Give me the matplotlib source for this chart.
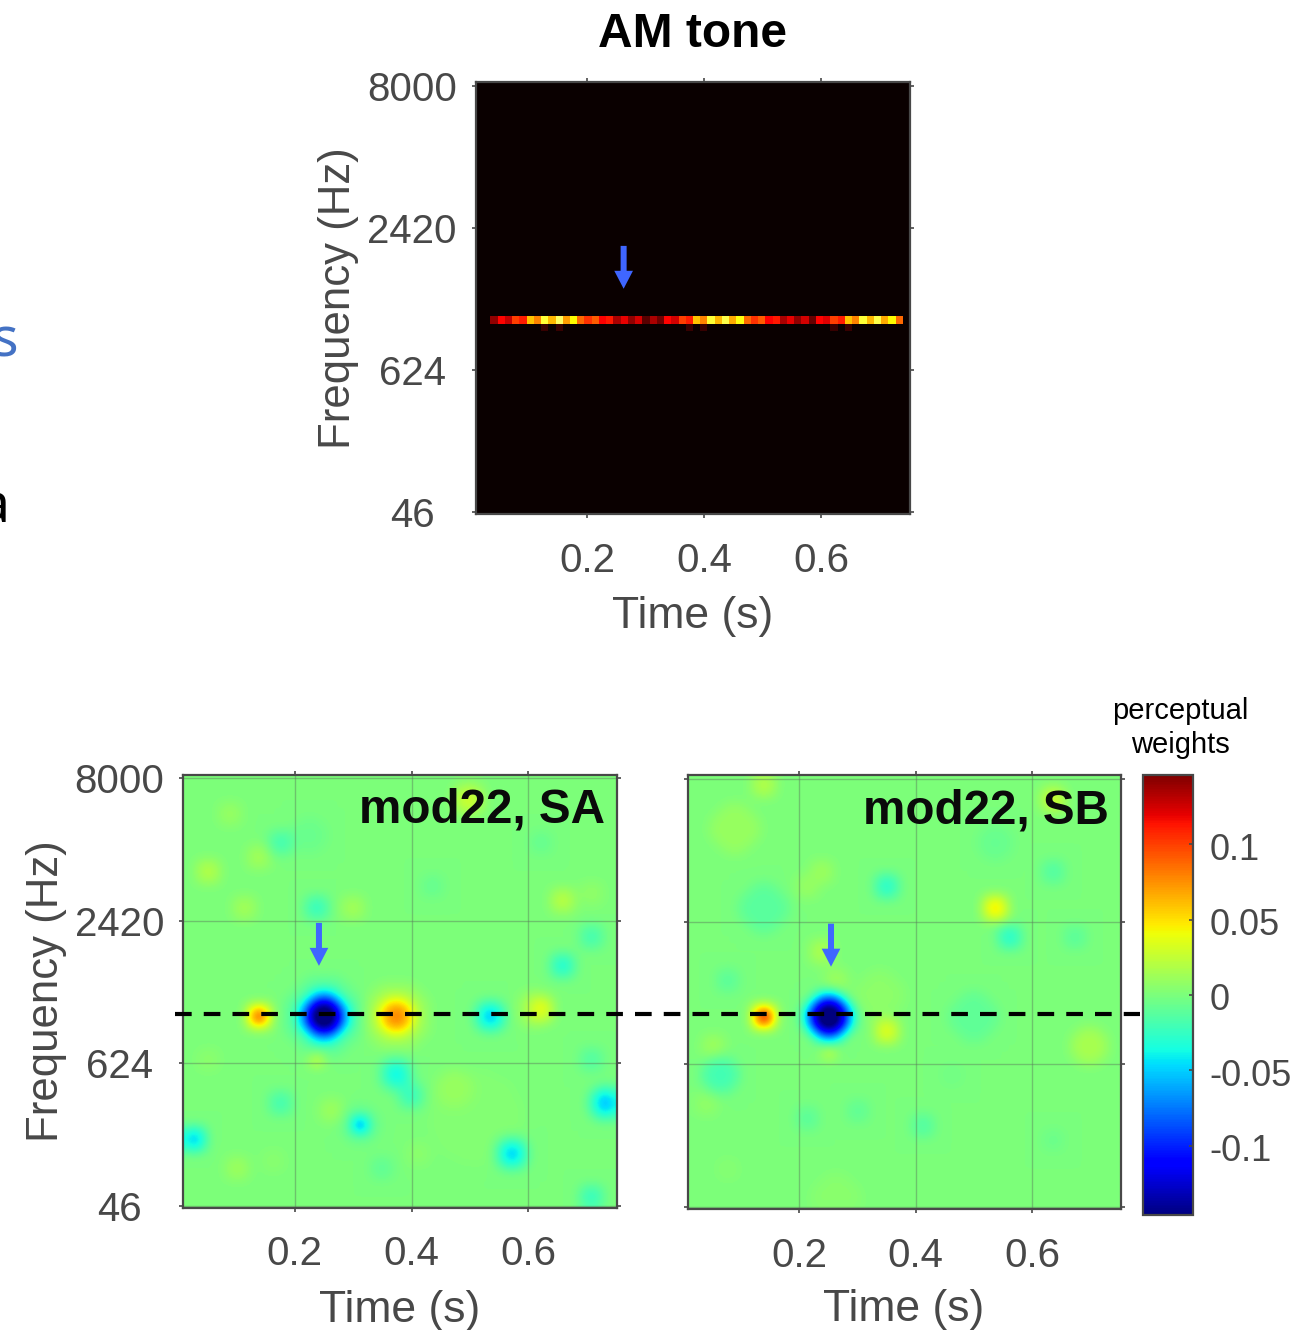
import matplotlib
matplotlib.use("Agg")
import matplotlib.pyplot as plt
import numpy as np
from matplotlib.patches import FancyArrow
from matplotlib.transforms import ScaledTranslation

plt.rcParams['font.family'] = ['Liberation Sans', 'DejaVu Sans']

W, H = 1304, 1330
cinza = '#484848'

# eixos comuns
time_ticks = [0.2, 0.4, 0.6]
freq_labels = ['46', '624', '2420', '8000']
freq_pos = [0, 1, 2, 3]
t_lim = (0.0092, 0.7524)
y_lim = (-0.014, 3.028)

# tom AM: uma linha de celulas do espectrograma (colunas 2 a 58)
tone_row = 32
tone_first_col = 2
tone_values = [0.20, 0.37, 0.28, 0.46, 0.41, 0.66, 0.56, 0.80, 0.64, 0.84, 0.60, 0.74,
               0.52, 0.44, 0.50, 0.36, 0.40, 0.24, 0.33, 0.20, 0.30, 0.12, 0.24, 0.15,
               0.37, 0.30, 0.46, 0.41, 0.66, 0.56, 0.80, 0.64, 0.82, 0.62, 0.76, 0.52,
               0.44, 0.50, 0.36, 0.40, 0.24, 0.33, 0.20, 0.30, 0.14, 0.37, 0.32, 0.46,
               0.41, 0.66, 0.56, 0.80, 0.64, 0.82, 0.62, 0.74, 0.52]
tone_weak_cols = [9, 11, 29, 31, 49, 51]
tone_weak_value = 0.07

# manchas do mapa SA (em ordem de desenho, as largas primeiro)
sa_col = [40, 48, 29, 42, 19, 19, 19, 19, 29, 29, 10, 10, 42, 49, 39, 39, 6, 13, 17, 10, 3, 8, 18, 23,
          34, 52, 56, 49, 56, 52, 18, 3, 29, 29, 31, 13, 20, 24, 24, 58, 58, 37, 1, 45, 45, 7, 12, 27,
          32, 56, 56]
sa_row = [47, 32, 33, 33, 33, 33, 33, 33, 33, 33, 33, 33, 33, 32, 3, 3, 5, 9, 8, 11, 13, 18, 18, 18,
          15, 17, 16, 9, 22, 26, 39, 39, 41, 41, 44, 45, 46, 48, 48, 45, 45, 43, 50, 52, 52, 54, 53, 54,
          52, 58, 39]
sa_half = [6, 2, 4, 2, 5, 3, 2, 1, 2, 1, 1, 0, 1, 1, 2, 1, 1, 1, 2, 1, 1, 1, 1, 1,
           1, 1, 1, 1, 1, 1, 0, 1, 2, 1, 1, 1, 1, 2, 0, 2, 1, 2, 1, 2, 1, 1, 1, 1,
           1, 1, 1]
sa_weight = [0.003, 0.01, 0.012, -0.01, -0.012, -0.06, -0.115, -0.17, 0.05, 0.08, 0.055, 0.2,
             -0.052, 0.038, 0.008, 0.03, 0.01, -0.02, -0.006, 0.014, 0.02, 0.014, -0.025, 0.014,
             -0.008, 0.022, 0.008, -0.008, -0.02, -0.032, 0.09, 0.006, -0.012, -0.04, -0.025, -0.02,
             0.012, -0.012, -0.2, -0.018, -0.055, 0.01, -0.05, -0.012, -0.05, 0.012, 0.005, -0.01,
             0.006, -0.025, -0.015]

# manchas do mapa SB
sb_col = [20, 26, 39, 6, 10, 19, 19, 19, 10, 10, 27, 19, 20, 18, 42, 44, 53, 27, 50, 10, 50, 18, 16,
          42, 5, 55, 3, 4, 2, 16, 23, 32, 50, 36, 5]
sb_row = [58, 30, 33, 7, 18, 33, 33, 33, 33, 33, 35, 38, 28, 24, 18, 22, 22, 15, 13, 1, 3, 13, 15,
          9, 28, 37, 37, 41, 45, 47, 46, 48, 50, 41, 54]
sb_half = [3, 3, 3, 3, 3, 3, 2, 1, 1, 0, 1, 0, 1, 1, 1, 1, 1, 1, 1, 1, 1, 1, 1,
           2, 1, 2, 1, 2, 1, 1, 1, 1, 1, 1, 1]
sb_weight = [0.005, 0.006, -0.01, 0.01, -0.012, -0.055, -0.12, -0.17, 0.065, 0.25, 0.036, 0.07,
             0.012, 0.018, 0.05, -0.03, -0.012, -0.03, -0.015, 0.02, 0.03, 0.012, 0.01,
             -0.007, -0.012, 0.016, 0.012, -0.02, 0.008, -0.012, -0.01, -0.015, -0.006, -0.004, 0.004]

# escala de cores
weight_lim = 0.146
cbar_ticks = [-0.1, -0.05, 0, 0.05, 0.1]
cbar_labels = ['-0.1', '-0.05', '0', '0.05', '0.1']


def monta_mapa(cols, rows, halves, weights):
    grid = np.zeros((60, 60))
    yy, xx = np.mgrid[0:60, 0:60]
    for c, r, h, w in zip(cols, rows, halves, weights):
        grid[(xx - c) ** 2 + (yy - r) ** 2 <= h * h + h] = w
    # suaviza as bordas das manchas
    nucleo = np.array([1, 2, 1]) / 4
    grid = np.apply_along_axis(np.convolve, 0, grid, nucleo, mode='same')
    grid = np.apply_along_axis(np.convolve, 1, grid, nucleo, mode='same')
    return grid


def novo_eixo(esq, topo, dir, baixo):
    return fig.add_axes([esq / W, 1 - baixo / H, (dir - esq) / W, (baixo - topo) / H])


def formata_eixo(ax, ylabel_x):
    ax.set_aspect('auto')
    ax.set_xlim(t_lim)
    ax.set_ylim(y_lim)
    ax.set_xticks(time_ticks)
    ax.set_xticklabels([str(t) for t in time_ticks])
    ax.set_yticks(freq_pos)
    ax.set_yticklabels(freq_labels, ha='center')
    ax.tick_params(axis='x', direction='out', length=3, width=1.2, color=cinza, labelcolor=cinza,
                   labelsize=29, pad=17, top=True)
    ax.tick_params(axis='y', direction='out', length=3, width=1.2, color=cinza, labelcolor=cinza,
                   labelsize=29, pad=43, right=True)
    for s in ax.spines.values():
        s.set_color(cinza)
        s.set_linewidth(1.6)
    ax.set_xlabel('Time (s)', fontsize=32, color=cinza, va='center')
    ax.xaxis.set_label_coords(0.498, -0.238)
    ax.set_ylabel('Frequency (Hz)', fontsize=31.5, color=cinza, va='center')
    ax.yaxis.set_label_coords(ylabel_x, 0.5)


def seta(ax, t, topo):
    ax.add_patch(FancyArrow(t, topo, 0, -43 / 142.5, width=0.0103, head_width=0.032,
                            head_length=18 / 142.5, length_includes_head=True,
                            color='#3f66ff', lw=0, zorder=4))


fig = plt.figure(figsize=(W / 100, H / 100), dpi=100)

# painel de cima
ax_am = novo_eixo(476, 82, 910, 514)
tone = np.zeros((59, 60))
tone[tone_row, tone_first_col:tone_first_col + len(tone_values)] = tone_values
tone[tone_row + 1, tone_weak_cols] = tone_weak_value
ax_am.imshow(tone, cmap='hot', vmin=0, vmax=1, extent=(*t_lim, *y_lim), interpolation='nearest')
formata_eixo(ax_am, -0.316)
seta(ax_am, 0.262, 1.874)
ax_am.set_title('AM tone', fontsize=34.5, fontweight='bold', color='black', pad=25)

# paineis de baixo
ax_sa = novo_eixo(183.3, 774.5, 617.3, 1207.7)
ax_sb = novo_eixo(687.7, 775, 1121, 1209)
ax_sa.set_zorder(5)
mapas = [monta_mapa(sa_col, sa_row, sa_half, sa_weight), monta_mapa(sb_col, sb_row, sb_half, sb_weight)]
for ax, mapa, nome, t_seta in zip([ax_sa, ax_sb], mapas, ['mod22, SA', 'mod22, SB'], [0.2415, 0.255]):
    im = ax.imshow(mapa, cmap='jet', vmin=-weight_lim, vmax=weight_lim, extent=(*t_lim, *y_lim),
                   interpolation='bicubic')
    formata_eixo(ax, -0.316)
    ax.grid(True, color='#5a7a5a', alpha=0.45, lw=1)
    seta(ax, t_seta, 1.986)
    ax.text(0.972, 0.917, nome, transform=ax.transAxes, ha='right', va='center', fontsize=34.3,
            fontweight='bold', color='#0a0a0a', zorder=5)
ax_sb.set_ylabel('')
ax_sb.set_yticklabels([])
ax_sb.xaxis.set_label_coords(0.498, -0.232)

# linha tracejada na frequencia do tom
ax_sa.plot([-0.018, 2.205], [1.344, 1.344], transform=ax_sa.get_yaxis_transform(), color='black', lw=3,
           dashes=(4, 2.9), clip_on=False, zorder=6)

# barra de cores
cax = novo_eixo(1143, 775, 1193, 1215)
cb = fig.colorbar(im, cax=cax, ticks=cbar_ticks)
cb.ax.set_yticklabels(cbar_labels)
cb.ax.tick_params(direction='in', length=3, width=1.2, color=cinza, labelcolor=cinza, labelsize=26, pad=12)
desce = ScaledTranslation(0, -2 / 100, fig.dpi_scale_trans)
for lab in cb.ax.get_yticklabels():
    lab.set_transform(lab.get_transform() + desce)
cb.outline.set_edgecolor(cinza)
cb.outline.set_linewidth(1.6)
fig.text(1180 / W, 1 - 728 / H, 'perceptual\nweights', ha='center', va='center', fontsize=21,
         color='black', linespacing=1.25)

# texto cortado na borda esquerda
fig.text(18 / W, 1 - 342 / H, 's', ha='right', va='center', fontsize=40, color='#4472c4', family='Noto Sans')
fig.text(10 / W, 1 - 508 / H, 'a', ha='right', va='center', fontsize=40, color='black', family='Noto Sans')

fig.savefig('out.png', dpi=100)
